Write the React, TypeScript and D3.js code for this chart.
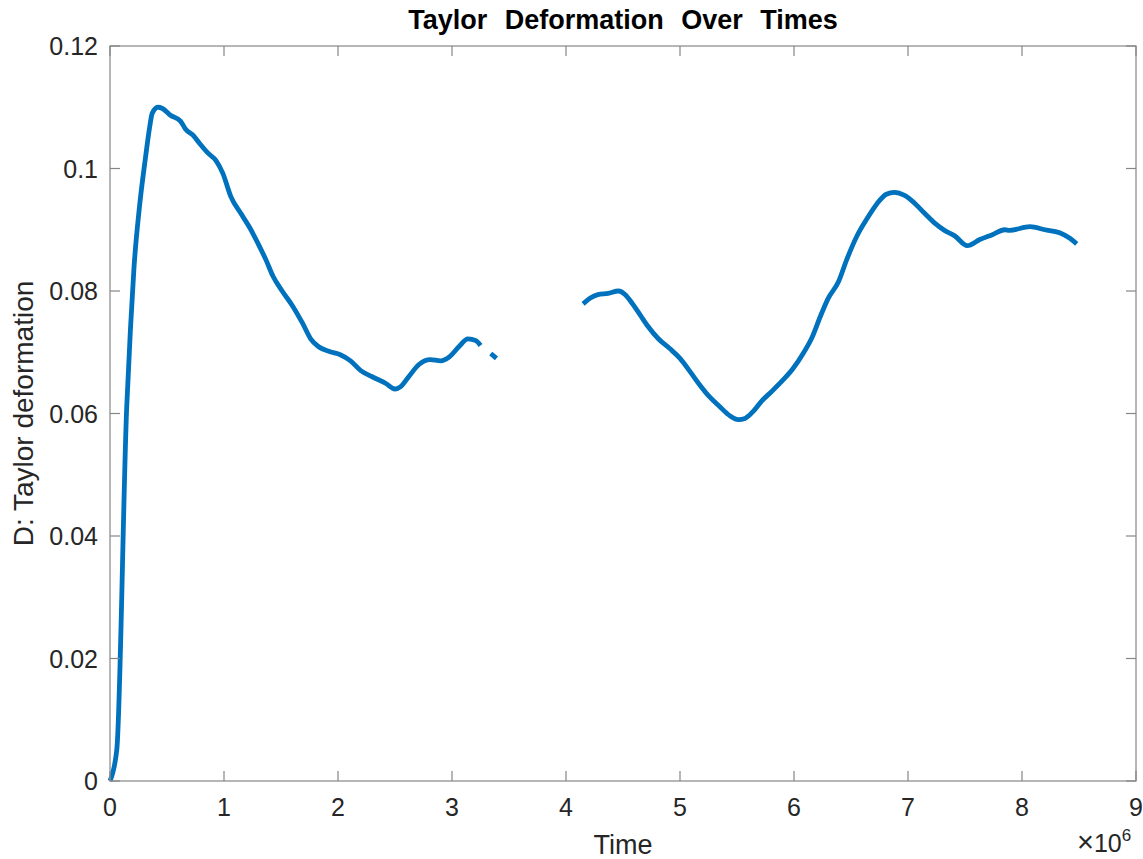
import React from 'react';
import * as d3 from 'd3';

// time in units of 1e6, NaN marks gaps in the recorded series
const timeValues = [
  0, 0.06, 0.146, 0.18, 0.21, 0.26, 0.31, 0.35, 0.37, 0.42, 0.46, 0.53, 0.62, 0.66, 0.73, 0.79, 0.86, 0.93, 0.99,
  1.06, 1.15, 1.23, 1.3, 1.37, 1.43, 1.51, 1.6, 1.69, 1.76, 1.83, 1.93, 2.02, 2.11, 2.2, 2.3, 2.42, 2.5, 2.55,
  2.62, 2.71, 2.81, 2.9, 2.98, 3.06, 3.14, 3.21, 3.25, 3.3, 3.34, 3.39, 3.6,
  4.15, 4.21, 4.28, 4.37, 4.46, 4.52, 4.58, 4.65, 4.72, 4.81, 4.91, 5.0, 5.09, 5.18, 5.26, 5.35, 5.44, 5.51,
  5.57, 5.64, 5.72, 5.81, 5.9, 5.99, 6.08, 6.16, 6.23, 6.3, 6.39, 6.46, 6.55, 6.64, 6.73, 6.81, 6.88, 6.97,
  7.06, 7.15, 7.24, 7.32, 7.41, 7.52, 7.63, 7.74, 7.85, 7.89, 8.07, 8.2, 8.33, 8.42, 8.48,
];
const deformValues = [
  0, 0.0052, 0.0608, 0.074, 0.0837, 0.094, 0.1016, 0.107, 0.109, 0.1100, 0.1098, 0.1087, 0.1077, 0.1065, 0.1054,
  0.104, 0.1025, 0.1013, 0.0992, 0.0954, 0.0926, 0.0902, 0.0877, 0.085, 0.0824, 0.08, 0.0776, 0.0747, 0.0722,
  0.0709, 0.0701, 0.0696, 0.0686, 0.067, 0.066, 0.0649, 0.064, 0.0644, 0.066, 0.068, 0.0688, 0.0686, 0.0693,
  0.0709, 0.0722, 0.0719, 0.0711, NaN, 0.0698, 0.069, NaN,
  0.0779, 0.0788, 0.0794, 0.0796, 0.08, 0.0794, 0.078, 0.0761, 0.0742, 0.0722, 0.0706, 0.069, 0.0668, 0.0645,
  0.0627, 0.0611, 0.0596, 0.059, 0.0592, 0.0603, 0.0621, 0.0637, 0.0654, 0.0673, 0.0698, 0.0725, 0.0758, 0.0788,
  0.0815, 0.085, 0.0889, 0.0918, 0.0943, 0.0958, 0.0961, 0.0956, 0.0943, 0.0926, 0.091, 0.0899, 0.089, 0.0874,
  0.0884, 0.0892, 0.09, 0.0899, 0.0905, 0.09, 0.0895, 0.0886, 0.0877,
];
const xTicks = [0, 1, 2, 3, 4, 5, 6, 7, 8, 9];
const yTicks = [0, 0.02, 0.04, 0.06, 0.08, 0.1, 0.12];

const W = 1143;
const H = 859;
const margin = { top: 46, right: 7, bottom: 78, left: 110 };
const font = '"Liberation Sans", Arial, Helvetica, sans-serif';

const App = () => {
  const x = d3.scaleLinear().domain([0, 9]).range([margin.left, W - margin.right]);
  const y = d3.scaleLinear().domain([0, 0.12]).range([H - margin.bottom, margin.top]);
  const pts = timeValues.map((t, i) => [t, deformValues[i]] as [number, number]);
  const line = d3
    .line<[number, number]>()
    .defined((d) => !isNaN(d[1]))
    .x((d) => x(d[0]))
    .y((d) => y(d[1]))
    .curve(d3.curveMonotoneX);

  const x0 = x(0), x1 = x(9), y0 = y(0), y1 = y(0.12);
  const tick = 10;
  const axisColor = '#868686';

  return (
    <svg width={W} height={H} style={{ position: 'absolute', left: 0, top: 0 }} fontFamily={font}>
      <rect width={W} height={H} fill="#fff" />
      <path d={line(pts) || ''} fill="none" stroke="#0072BD" strokeWidth={4.8} strokeLinejoin="round" />
      <rect x={x0} y={y1} width={x1 - x0} height={y0 - y1} fill="none" stroke={axisColor} strokeWidth={1.2} />
      {xTicks.map((t) => (
        <g key={'x' + t}>
          <line x1={x(t)} x2={x(t)} y1={y0} y2={y0 - tick} stroke={axisColor} strokeWidth={1.2} />
          <line x1={x(t)} x2={x(t)} y1={y1} y2={y1 + tick} stroke={axisColor} strokeWidth={1.2} />
          <text x={x(t)} y={y0 + 35} textAnchor="middle" fontSize={25} fill="#262626">{t}</text>
        </g>
      ))}
      {yTicks.map((t) => (
        <g key={'y' + t}>
          <line x1={x0} x2={x0 + tick} y1={y(t)} y2={y(t)} stroke={axisColor} strokeWidth={1.2} />
          <line x1={x1} x2={x1 - tick} y1={y(t)} y2={y(t)} stroke={axisColor} strokeWidth={1.2} />
          <text x={x0 - 12} y={y(t) + 9} textAnchor="end" fontSize={25} fill="#262626">{String(t)}</text>
        </g>
      ))}
      <text x={(x0 + x1) / 2} y={29} textAnchor="middle" fontSize={27} fontWeight="bold" wordSpacing={10} fill="#000">
        Taylor Deformation Over Times
      </text>
      <text x={(x0 + x1) / 2} y={854} textAnchor="middle" fontSize={27} fill="#262626">Time</text>
      <text transform={`translate(33,${(y0 + y1) / 2}) rotate(-90)`} textAnchor="middle" fontSize={28} fill="#262626">
        D: Taylor deformation
      </text>
      <text x={1077} y={852} fontSize={25} fill="#262626">
        <tspan fontSize={29}>×</tspan>10<tspan dy={-11} fontSize={17}>6</tspan>
      </text>
    </svg>
  );
};

export default App;
